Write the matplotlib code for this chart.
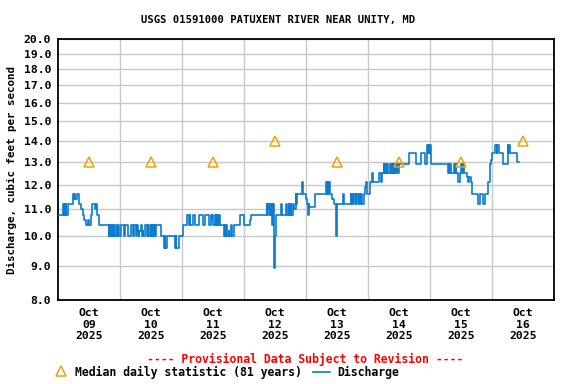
import matplotlib
matplotlib.use("Agg")
import matplotlib.pyplot as plt
import matplotlib.dates as mdates
from matplotlib.ticker import FixedLocator, NullLocator, NullFormatter
from matplotlib.lines import Line2D
import pandas as pd

# ---------------- data ----------------
start = pd.Timestamp("2025-10-09 00:00")
# hours since Oct 09 00:00 where the discharge value changes (step, post)
change_hours = [
    0.0, 2.0, 2.25, 2.5, 2.75, 3.0, 3.25, 3.9, 5.7, 6.0, 6.25, 6.5, 7.2, 8.25, 9.0, 9.5,
    10.25, 10.75, 11.75, 12.0, 12.6, 13.2, 14.5, 14.75, 15.2, 15.75, 16.0, 19.6, 19.75,
    20.0, 20.25, 20.5, 20.75, 21.0, 21.5, 21.75, 22.5, 22.75, 23.2,
    23.7, 24.2, 25.5, 26.0, 27.1, 28.1, 29.0, 29.25, 30.0, 30.5, 31.0, 31.25, 31.5, 32.0,
    32.5, 32.75, 33.0, 33.5, 34.6, 34.75, 35.0, 35.5, 36.1, 36.25, 36.5, 36.75, 37.0,
    37.25, 37.5, 37.75, 39.8, 41.0, 41.25, 41.5, 42.3, 45.4, 45.6, 45.8, 46.7, 48.3,
    49.8, 50.6, 51.0, 51.25, 52.4, 53.2, 54.5, 56.0, 57.0, 58.3, 59.1, 59.5, 59.75, 60.1,
    60.7, 61.0, 61.25, 61.5, 61.75, 62.0, 62.25, 62.7, 64.3, 64.5, 64.75, 65.0, 65.25,
    66.0, 66.25, 67.0, 67.25, 68.1, 70.3,
    72.0, 74.3, 74.8, 80.8, 81.0, 81.25, 81.5, 81.75, 82.0, 82.25, 82.6, 82.8, 83.0,
    83.25, 83.5, 83.75, 84.0, 84.25, 86.5, 86.75, 88.3, 88.5, 89.3, 89.5, 90.1, 90.3,
    91.1, 91.3, 92.1, 92.3, 92.5, 94.4, 95.0, 96.0, 96.5, 96.75, 97.0, 97.3,
    99.4, 103.8, 104.0, 104.25, 104.5, 104.75, 105.1, 106.0, 106.9, 107.6, 107.8, 108.0,
    110.5, 110.75, 113.3, 113.5, 113.9, 114.25, 114.75, 115.25, 115.5, 116.0, 116.5,
    117.0, 117.25, 117.75, 118.5, 118.8, 119.3, 119.7,
    120.8, 121.6, 122.1, 124.4, 125.2, 125.5, 126.0, 126.25, 126.5, 126.75, 127.0,
    127.25, 127.5, 127.75, 128.5, 128.75, 129.0, 129.25, 129.5, 129.75, 130.0, 130.25,
    130.5, 131.0, 131.25, 131.5, 132.1, 135.8, 138.6, 140.7, 142.2, 143.0, 143.25,
    143.5, 143.75, 144.0, 144.5,
    151.0, 151.25, 151.5, 151.75, 152.3, 153.3, 153.5, 154.0, 154.25, 154.8, 155.6,
    156.0, 156.25, 156.75, 157.0, 158.5, 158.75, 159.0, 159.7, 160.3, 162.6, 163.4,
    164.7, 165.4, 166.5, 167.2, 167.6,
    168.0, 169.3, 169.8, 170.1, 170.6, 172.4, 174.0, 174.25, 174.5, 175.0, 177.8, 178.4,
]
discharge_cfs = [
    10.8, 11.2, 10.8, 11.2, 10.8, 11.2, 10.8, 11.2, 11.6, 11.4, 11.6, 11.4, 11.6, 11.2, 11.0, 10.8,
    10.6, 10.4, 10.6, 10.4, 10.8, 11.2, 11.0, 11.2, 10.8, 10.6, 10.4, 10.0, 10.4,
    10.0, 10.4, 10.0, 10.4, 10.0, 10.4, 10.0, 10.4, 10.0, 10.4,
    10.0, 10.4, 10.0, 10.4, 10.0, 10.4, 10.0, 10.4, 10.0, 10.4, 10.2, 10.0, 10.2, 10.4,
    10.0, 10.2, 10.0, 10.4, 10.0, 10.4, 10.0, 10.4, 10.0, 10.4, 10.0, 10.4, 10.0,
    10.4, 10.0, 10.4, 10.0, 9.6, 10.0, 9.6, 10.0, 9.6, 10.0, 9.6, 10.0, 10.4,
    10.8, 10.4, 10.8, 10.4, 10.8, 10.4, 10.8, 10.4, 10.8, 10.4, 10.8, 10.6, 10.8, 10.4,
    10.8, 10.4, 10.8, 10.4, 10.8, 10.4, 10.8, 10.4, 10.0, 10.4, 10.0, 10.4, 10.0,
    10.2, 10.0, 10.4, 10.0, 10.4, 10.8,
    10.4, 10.6, 10.8, 11.2, 10.8, 11.2, 11.0, 11.2, 10.8, 11.2, 10.8, 11.2, 10.4,
    11.2, 10.0, 8.95, 10.0, 10.8, 11.2, 10.8, 11.2, 10.8, 11.2, 10.8, 11.2, 10.8,
    11.2, 11.0, 11.6, 11.2, 11.6, 12.1, 11.6, 11.4, 11.2, 10.8, 11.2, 11.1,
    11.6, 12.1, 11.6, 12.1, 11.6, 12.1, 11.6, 11.4, 11.2, 10.6, 10.0, 11.2,
    11.6, 11.2, 11.6, 11.2, 11.6, 11.2, 11.6, 11.2, 11.6, 11.2, 11.6,
    11.2, 11.6, 11.2, 11.6, 11.9, 12.1, 11.6,
    12.1, 12.5, 12.1, 12.5, 12.1, 12.5, 12.9, 12.5, 12.9, 12.5, 12.9,
    12.5, 12.9, 12.5, 12.9, 12.5, 12.9, 12.5, 12.9, 12.5, 12.9, 12.5,
    12.9, 12.5, 12.9, 12.5, 12.9, 13.4, 12.9, 13.4, 12.9, 13.8, 13.4,
    13.8, 13.4, 13.8, 12.9,
    12.5, 12.9, 12.5, 12.9, 12.5, 12.9, 12.5, 12.9, 12.5, 12.1, 12.5,
    12.9, 12.5, 12.9, 12.5, 12.3, 12.1, 12.3, 12.1, 11.6, 11.2, 11.6,
    11.2, 11.6, 12.1, 12.9, 13.1,
    13.4, 13.8, 13.4, 13.8, 13.4, 12.9, 13.8, 13.4, 13.8, 13.4, 13.0, 13.0,
]

median_dates = ["2025-10-09 12:00", "2025-10-10 12:00", "2025-10-11 12:00", "2025-10-12 12:00",
                "2025-10-13 12:00", "2025-10-14 12:00", "2025-10-15 12:00", "2025-10-16 12:00"]
median_cfs = [13.0, 13.0, 13.0, 14.0, 13.0, 13.0, 13.0, 14.0]

xtick_labels = ["Oct\n09\n2025", "Oct\n10\n2025", "Oct\n11\n2025", "Oct\n12\n2025",
                "Oct\n13\n2025", "Oct\n14\n2025", "Oct\n15\n2025", "Oct\n16\n2025"]
ytick_values = [8.0, 9.0, 10.0, 11.0, 12.0, 13.0, 14.0, 15.0, 16.0, 17.0, 18.0, 19.0, 20.0]

title = "USGS 01591000 PATUXENT RIVER NEAR UNITY, MD"
ylabel = "Discharge, cubic feet per second"
provisional = "---- Provisional Data Subject to Revision ----"
legend_median = "Median daily statistic (81 years)"
legend_q = "Discharge"

# ---------------- plot ----------------
FONT = "DejaVu Sans Mono"
BLUE = "#0b7dd0"
ORANGE = "#f5a000"
fig = plt.figure(figsize=(5.76, 3.84), dpi=100)
ax = fig.add_axes([58/576, 1-300/384, (554-58)/576, (300-39)/384])

times = [start + pd.Timedelta(hours=h) for h in change_hours]
ax.step(times, discharge_cfs, where="post", color=BLUE, lw=1.2, zorder=3)
md = pd.to_datetime(median_dates)
ax.plot(md, median_cfs, linestyle="none", marker="^", markersize=7.5,
        markerfacecolor="none", markeredgecolor=ORANGE, markeredgewidth=1.1, zorder=4)

ax.set_yscale("log")
ax.set_ylim(8.0, 20.0)
ax.yaxis.set_major_locator(FixedLocator(ytick_values))
ax.yaxis.set_minor_locator(NullLocator())
ax.yaxis.set_minor_formatter(NullFormatter())
ax.set_yticklabels([f"{v:.1f}" for v in ytick_values])

x0 = pd.Timestamp("2025-10-09")
x1 = pd.Timestamp("2025-10-17")
ax.set_xlim(x0, x1)
days = pd.date_range("2025-10-10", "2025-10-16", freq="D")
ax.set_xticks(md)
ax.set_xticklabels(xtick_labels, linespacing=1.15)
ax.set_xticks(days, minor=True)

ax.grid(True, which="major", axis="y", color="#c8c8c8", lw=1.0, zorder=0)
ax.grid(True, which="minor", axis="x", color="#c8c8c8", lw=1.0, zorder=0)
ax.set_axisbelow(True)
for s in ax.spines.values():
    s.set_color("black")
    s.set_linewidth(1.3)
ax.tick_params(axis="both", which="both", length=0)
ax.tick_params(axis="y", pad=5)
ax.tick_params(axis="x", pad=6)
for lab in ax.get_yticklabels() + ax.get_xticklabels():
    lab.set_fontfamily(FONT)
    lab.set_fontweight("bold")
    lab.set_fontsize(8.2)

fig.text(278/576, 1-20.5/384, title, ha="center", va="center",
         fontfamily=FONT, fontweight="bold", fontsize=7.6)
fig.text(12/576, 1-170/384, ylabel, rotation=90, ha="center", va="center",
         fontfamily=FONT, fontweight="bold", fontsize=7.8)
fig.text(305/576, 1-359/384, provisional, ha="center", va="center", color="red",
         fontfamily=FONT, fontweight="bold", fontsize=8.3)

# legend row
fig.lines.append(Line2D([61/576], [1-371/384], transform=fig.transFigure, marker="^",
                        markersize=7.5, markerfacecolor="none", markeredgecolor=ORANGE,
                        markeredgewidth=1.1, linestyle="none"))
fig.text(75/576, 1-372/384, legend_median, ha="left", va="center",
         fontfamily=FONT, fontweight="bold", fontsize=8.3)
fig.lines.append(Line2D([313/576, 330/576], [1-372/384, 1-372/384], transform=fig.transFigure,
                        color=BLUE, lw=1.2))
fig.text(337/576, 1-372/384, legend_q, ha="left", va="center",
         fontfamily=FONT, fontweight="bold", fontsize=8.3)

fig.savefig("out.png", dpi=100)
